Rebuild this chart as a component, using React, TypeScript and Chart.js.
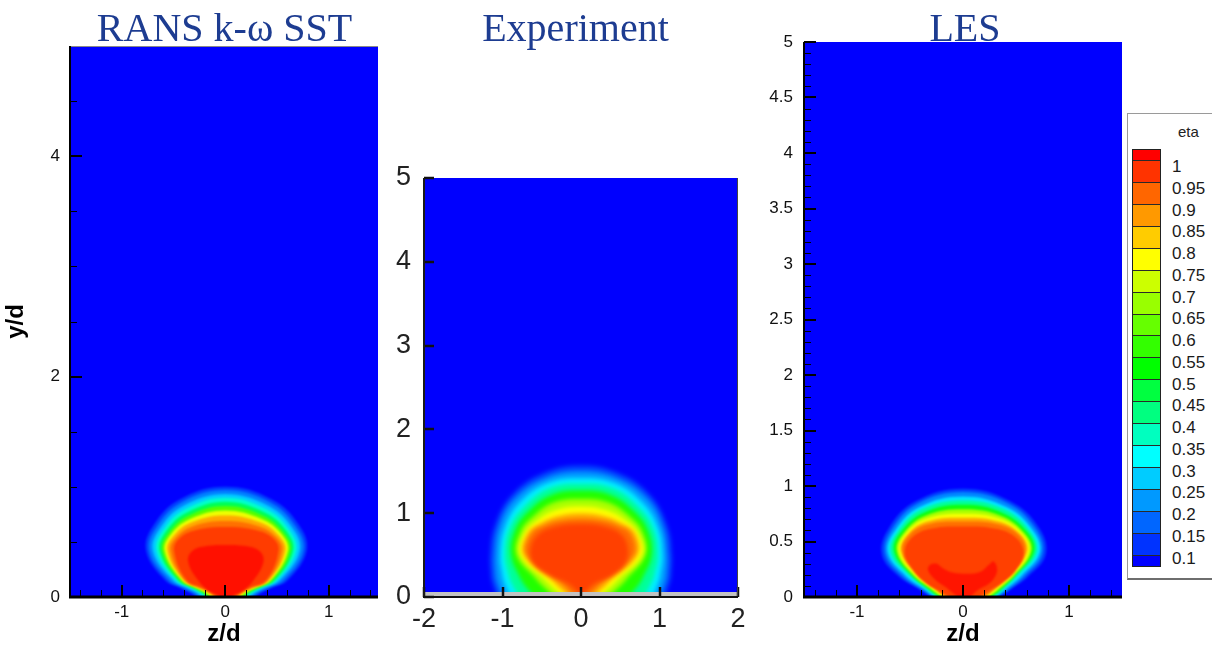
import React, { useEffect, useRef } from 'react';
import { Chart, registerables } from 'chart.js';

Chart.register(...registerables);

type Pt = [number, number];

const TITLE_COLOR = '#1d3c91';
const SANS = '"Liberation Sans", Arial, sans-serif';
const NARROW = '"Liberation Sans Narrow", "Liberation Sans", Arial, sans-serif';
const SERIF = '"Liberation Serif", "Times New Roman", serif';

// ---------- panel titles ----------
const panelTitles = ['RANS k-ω SST', 'Experiment', 'LES'];

// ---------- RANS k-ω SST ----------
const ransXTicks = [-1, 0, 1];
const ransYTicks = [0, 2, 4];
const ransContours: Pt[][] = [
  [[-0.25,-0.05],[-0.31,0.02],[-0.43,0.08],[-0.58,0.15],[-0.765,0.42],[-0.69,0.655],[-0.44,0.885],[0,1.0],[0.45,0.885],[0.71,0.655],[0.785,0.42],[0.6,0.15],[0.44,0.08],[0.32,0.02],[0.26,-0.05]],
  [[-0.22,-0.05],[-0.28,0.02],[-0.4,0.08],[-0.55,0.155],[-0.735,0.42],[-0.66,0.64],[-0.42,0.86],[0,0.97],[0.43,0.86],[0.68,0.64],[0.755,0.42],[0.57,0.155],[0.41,0.08],[0.29,0.02],[0.23,-0.05]],
  [[-0.2,-0.05],[-0.25,0.02],[-0.36,0.08],[-0.51,0.155],[-0.7,0.42],[-0.625,0.63],[-0.4,0.83],[0,0.935],[0.41,0.83],[0.645,0.63],[0.72,0.42],[0.53,0.155],[0.37,0.08],[0.26,0.02],[0.21,-0.05]],
  [[-0.18,-0.05],[-0.22,0.02],[-0.33,0.08],[-0.48,0.155],[-0.665,0.42],[-0.59,0.62],[-0.38,0.8],[0,0.9],[0.39,0.8],[0.61,0.62],[0.685,0.42],[0.5,0.155],[0.34,0.08],[0.23,0.02],[0.19,-0.05]],
  [[-0.16,-0.05],[-0.2,0.02],[-0.31,0.08],[-0.46,0.155],[-0.635,0.42],[-0.565,0.605],[-0.365,0.77],[0,0.865],[0.375,0.77],[0.585,0.605],[0.655,0.42],[0.48,0.155],[0.32,0.08],[0.21,0.02],[0.17,-0.05]],
  [[-0.14,-0.05],[-0.18,0.02],[-0.29,0.08],[-0.44,0.155],[-0.61,0.42],[-0.54,0.59],[-0.35,0.74],[0,0.825],[0.36,0.74],[0.56,0.59],[0.63,0.42],[0.46,0.155],[0.3,0.08],[0.19,0.02],[0.15,-0.05]],
  [[-0.125,-0.05],[-0.16,0.02],[-0.27,0.08],[-0.42,0.155],[-0.585,0.42],[-0.52,0.575],[-0.335,0.71],[0,0.785],[0.345,0.71],[0.54,0.575],[0.605,0.42],[0.44,0.155],[0.28,0.08],[0.17,0.02],[0.135,-0.05]],
  [[-0.11,-0.05],[-0.14,0.02],[-0.25,0.08],[-0.405,0.155],[-0.56,0.42],[-0.495,0.56],[-0.32,0.68],[0,0.74],[0.33,0.68],[0.515,0.56],[0.58,0.42],[0.425,0.155],[0.26,0.08],[0.15,0.02],[0.12,-0.05]],
  [[-0.095,-0.05],[-0.12,0.02],[-0.23,0.08],[-0.39,0.155],[-0.53,0.42],[-0.47,0.545],[-0.305,0.645],[0,0.69],[0.315,0.645],[0.49,0.545],[0.55,0.42],[0.41,0.155],[0.24,0.08],[0.13,0.02],[0.105,-0.05]],
  [[-0.08,-0.05],[-0.1,0.02],[-0.21,0.08],[-0.375,0.155],[-0.495,0.42],[-0.445,0.53],[-0.29,0.605],[0,0.635],[0.3,0.605],[0.465,0.53],[0.515,0.42],[0.395,0.155],[0.22,0.08],[0.11,0.02],[0.09,-0.05]],
  [[-0.03,-0.05],[-0.06,0.01],[-0.15,0.05],[-0.265,0.155],[-0.36,0.33],[-0.31,0.425],[-0.16,0.465],[0,0.472],[0.17,0.465],[0.32,0.425],[0.37,0.33],[0.275,0.155],[0.16,0.05],[0.07,0.01],[0.04,-0.05]],
];
const ransColors = ['#0040ff', '#0080ff', '#00ccff', '#00ffcc', '#00ff55', '#55ff00', '#eeff00', '#ffaa00', '#ff7000', '#ff3c00', '#ff1000'];

// ---------- Experiment ----------
const expXTicks = [-2, -1, 0, 1, 2];
const expYTicks = [0, 1, 2, 3, 4, 5];
const expContours: Pt[][] = [
  [[-1.13,-0.05],[-1.15,0.25],[-1.16,0.5],[-1.1,0.85],[-0.88,1.22],[-0.48,1.48],[0,1.57],[0.48,1.48],[0.88,1.22],[1.1,0.85],[1.16,0.5],[1.15,0.25],[1.13,-0.05]],
  [[-1.06,-0.05],[-1.09,0.25],[-1.1,0.5],[-1.04,0.85],[-0.84,1.18],[-0.46,1.42],[0,1.5],[0.46,1.42],[0.84,1.18],[1.04,0.85],[1.1,0.5],[1.09,0.25],[1.06,-0.05]],
  [[-0.96,-0.05],[-1.0,0.25],[-1.03,0.5],[-0.97,0.83],[-0.78,1.13],[-0.43,1.36],[0,1.42],[0.43,1.36],[0.78,1.13],[0.98,0.83],[1.04,0.5],[1.01,0.25],[0.97,-0.05]],
  [[-0.84,-0.05],[-0.92,0.25],[-0.97,0.5],[-0.91,0.82],[-0.72,1.08],[-0.4,1.3],[0,1.35],[0.4,1.3],[0.73,1.08],[0.92,0.82],[0.98,0.5],[0.93,0.25],[0.85,-0.05]],
  [[-0.62,-0.05],[-0.76,0.2],[-0.89,0.5],[-0.84,0.8],[-0.66,1.03],[-0.37,1.22],[0,1.27],[0.37,1.22],[0.67,1.03],[0.85,0.8],[0.9,0.5],[0.77,0.2],[0.63,-0.05]],
  [[-0.36,-0.05],[-0.56,0.2],[-0.82,0.5],[-0.77,0.78],[-0.6,0.97],[-0.34,1.13],[0,1.17],[0.34,1.13],[0.61,0.97],[0.78,0.78],[0.82,0.5],[0.57,0.2],[0.37,-0.05]],
  [[-0.24,-0.05],[-0.43,0.18],[-0.77,0.5],[-0.72,0.76],[-0.55,0.92],[-0.31,1.04],[0,1.08],[0.31,1.04],[0.56,0.92],[0.73,0.76],[0.78,0.5],[0.44,0.18],[0.25,-0.05]],
  [[-0.16,-0.05],[-0.32,0.15],[-0.73,0.5],[-0.68,0.76],[-0.5,0.89],[-0.28,0.97],[0,1.0],[0.28,0.97],[0.5,0.89],[0.69,0.76],[0.72,0.5],[0.33,0.15],[0.17,-0.05]],
  [[-0.1,-0.05],[-0.22,0.14],[-0.69,0.5],[-0.63,0.76],[-0.45,0.86],[-0.25,0.915],[0,0.935],[0.25,0.915],[0.45,0.86],[0.63,0.76],[0.67,0.5],[0.23,0.14],[0.11,-0.05]],
  [[-0.02,-0.05],[-0.12,0.13],[-0.4,0.26],[-0.6,0.4],[-0.645,0.56],[-0.55,0.74],[-0.32,0.84],[0,0.87],[0.3,0.84],[0.52,0.74],[0.6,0.56],[0.56,0.4],[0.4,0.26],[0.13,0.13],[0.03,-0.05]],
];
const expColors = ['#0044ff', '#0099ff', '#00eeff', '#00ff99', '#22ff00', '#aaff00', '#ffff00', '#ffaa00', '#ff6a00', '#ff4000'];

// ---------- LES ----------
const lesXTicks = [-1, 0, 1];
const lesYTicks = [0, 0.5, 1, 1.5, 2, 2.5, 3, 3.5, 4, 4.5, 5];
const lesContours: Pt[][] = [
  [[-0.27,-0.05],[-0.4,0.06],[-0.6,0.18],[-0.765,0.38],[-0.7,0.62],[-0.45,0.86],[0,0.975],[0.45,0.86],[0.72,0.62],[0.78,0.38],[0.61,0.18],[0.44,0.06],[0.31,-0.05]],
  [[-0.25,-0.05],[-0.38,0.06],[-0.57,0.185],[-0.735,0.39],[-0.67,0.61],[-0.43,0.84],[0,0.945],[0.43,0.84],[0.69,0.61],[0.75,0.39],[0.58,0.185],[0.42,0.06],[0.29,-0.05]],
  [[-0.23,-0.05],[-0.35,0.06],[-0.54,0.19],[-0.71,0.4],[-0.64,0.6],[-0.41,0.81],[0,0.905],[0.41,0.81],[0.66,0.6],[0.725,0.4],[0.55,0.19],[0.39,0.06],[0.27,-0.05]],
  [[-0.21,-0.05],[-0.33,0.06],[-0.51,0.195],[-0.68,0.4],[-0.615,0.59],[-0.39,0.79],[0,0.87],[0.39,0.79],[0.635,0.59],[0.695,0.4],[0.52,0.195],[0.37,0.06],[0.25,-0.05]],
  [[-0.19,-0.05],[-0.31,0.06],[-0.49,0.2],[-0.65,0.41],[-0.59,0.58],[-0.37,0.76],[0,0.83],[0.37,0.76],[0.61,0.58],[0.67,0.41],[0.5,0.2],[0.35,0.06],[0.23,-0.05]],
  [[-0.17,-0.05],[-0.29,0.06],[-0.475,0.2],[-0.625,0.41],[-0.565,0.57],[-0.36,0.73],[0,0.79],[0.36,0.73],[0.585,0.57],[0.645,0.41],[0.49,0.2],[0.33,0.06],[0.21,-0.05]],
  [[-0.15,-0.05],[-0.27,0.06],[-0.46,0.205],[-0.605,0.41],[-0.545,0.565],[-0.35,0.705],[0,0.75],[0.35,0.705],[0.565,0.565],[0.625,0.41],[0.475,0.205],[0.31,0.06],[0.19,-0.05]],
  [[-0.13,-0.05],[-0.25,0.06],[-0.445,0.21],[-0.585,0.41],[-0.525,0.56],[-0.34,0.68],[0,0.715],[0.34,0.68],[0.545,0.56],[0.605,0.41],[0.46,0.21],[0.29,0.06],[0.17,-0.05]],
  [[-0.11,-0.05],[-0.235,0.055],[-0.43,0.215],[-0.57,0.41],[-0.51,0.555],[-0.33,0.655],[0,0.68],[0.33,0.655],[0.53,0.555],[0.585,0.41],[0.445,0.215],[0.27,0.055],[0.15,-0.05]],
  [[-0.08,-0.05],[-0.21,0.048],[-0.34,0.12],[-0.47,0.244],[-0.55,0.41],[-0.45,0.56],[-0.25,0.625],[0,0.635],[0.25,0.625],[0.465,0.56],[0.57,0.41],[0.5,0.244],[0.355,0.12],[0.23,0.048],[0.1,-0.05]],
  [[-0.03,-0.05],[-0.15,0.078],[-0.26,0.153],[-0.33,0.24],[-0.31,0.29],[-0.245,0.3],[-0.2,0.265],[-0.12,0.225],[0,0.21],[0.16,0.225],[0.245,0.29],[0.29,0.32],[0.322,0.25],[0.3,0.18],[0.244,0.12],[0.12,0.048],[0.05,-0.05]],
];
const lesColors = ['#0040ff', '#0088ff', '#00e5ff', '#00ff99', '#10ff10', '#aaff00', '#f5ff00', '#ffaa00', '#ff7000', '#ff4000', '#ff1500'];

// ---------- colour legend ----------
const legendTitle = 'eta';
const legendLabels = ['1', '0.95', '0.9', '0.85', '0.8', '0.75', '0.7', '0.65', '0.6', '0.55', '0.5', '0.45', '0.4', '0.35', '0.3', '0.25', '0.2', '0.15', '0.1'];
const legendColors = ['#ff0000', '#ff3300', '#ff6600', '#ff9900', '#ffcc00', '#ffff00', '#ccff00', '#99ff00', '#66ff00', '#33ff00', '#00ff00', '#00ff40', '#00ff80', '#00ffbf', '#00ffff', '#00ccff', '#0099ff', '#0066ff', '#0033ff', '#0000ff'];

type PanelCfg = {
  left: number; width: number; padTop: number; padRight: number; yWidth: number; xHeight: number;
  xRange: [number, number]; yRange: [number, number];
  xTicks: number[]; yTicks: number[]; xMinor: number; yMinor: number;
  contours: Pt[][]; colors: string[]; blur: number; bg: string; tension: number;
  tickFamily: string; tickSize: number; tickColor: string; xPad: number; yPad: number;
  xTitle?: string; yTitle?: string; style: 'tec' | 'exp'; topLine?: string;
};

function Panel({ cfg }: { cfg: PanelCfg }) {
  const ref = useRef<HTMLCanvasElement>(null);
  useEffect(() => {
    const canvas = ref.current as HTMLCanvasElement;
    const [xMin, xMax] = cfg.xRange;
    const [yMin, yMax] = cfg.yRange;
    const datasets = cfg.contours.map((pts, i) => ({
      data: [
        { x: xMin - 5, y: yMin - 0.05 },
        ...pts.map(([x, y]) => ({ x, y })),
        { x: xMax + 5, y: yMin - 0.05 },
      ],
      backgroundColor: cfg.colors[i],
      borderColor: 'rgba(0,0,0,0)',
      borderWidth: 0,
      fill: 'shape',
      tension: cfg.tension,
      pointRadius: 0,
      pointHoverRadius: 0,
      order: cfg.contours.length - i,
    }));

    const isMajor = (list: number[], v: number) => list.some((t) => Math.abs(t - v) < 1e-6);

    const deco = {
      id: 'deco',
      beforeDatasetsDraw(chart: any) {
        const { ctx, chartArea: a } = chart;
        ctx.save();
        ctx.fillStyle = cfg.bg;
        ctx.fillRect(a.left, a.top, a.right - a.left, a.bottom - a.top);
        ctx.filter = `blur(${cfg.blur}px)`;
      },
      afterDatasetsDraw(chart: any) {
        chart.ctx.restore();
      },
      afterDraw(chart: any) {
        const { ctx, chartArea: a } = chart;
        const xs = chart.scales.x;
        const ys = chart.scales.y;
        const seg = (x1: number, y1: number, x2: number, y2: number, w: number, c: string) => {
          ctx.beginPath();
          ctx.lineWidth = w;
          ctx.strokeStyle = c;
          ctx.moveTo(x1, y1);
          ctx.lineTo(x2, y2);
          ctx.stroke();
        };
        ctx.save();
        if (cfg.style === 'tec') {
          if (cfg.xMinor > 0) {
            const k0 = Math.ceil(xMin / cfg.xMinor - 1e-9);
            const k1 = Math.floor(xMax / cfg.xMinor + 1e-9);
            for (let k = k0; k <= k1; k++) {
              const v = k * cfg.xMinor;
              if (isMajor(cfg.xTicks, v)) continue;
              const px = Math.round(xs.getPixelForValue(v)) + 0.5;
              seg(px, a.bottom, px, a.bottom - 7, 1, '#000');
            }
          }
          if (cfg.yMinor > 0) {
            const k0 = Math.ceil(yMin / cfg.yMinor - 1e-9);
            const k1 = Math.floor(yMax / cfg.yMinor + 1e-9);
            for (let k = k0; k <= k1; k++) {
              const v = k * cfg.yMinor;
              if (isMajor(cfg.yTicks, v)) continue;
              const py = Math.round(ys.getPixelForValue(v)) + 0.5;
              seg(a.left, py, a.left + 7, py, 1, '#000');
            }
          }
          cfg.xTicks.forEach((v) => {
            const px = Math.round(xs.getPixelForValue(v));
            seg(px, a.bottom, px, a.bottom - 12, 2, '#000');
          });
          cfg.yTicks.forEach((v) => {
            const py = Math.round(ys.getPixelForValue(v));
            seg(a.left, py, a.left + 12, py, 2, '#000');
          });
          if (cfg.topLine) seg(a.left, a.top + 0.5, a.right, a.top + 0.5, 1, cfg.topLine);
          seg(a.left, a.top, a.left, a.bottom + 1, 2, '#000');
          seg(a.left - 1, a.bottom, a.right, a.bottom, 3, '#000');
        } else {
          ctx.fillStyle = '#c2c2c2';
          ctx.fillRect(a.left, a.bottom - 5, a.right - a.left, 4);
          cfg.xTicks.forEach((v) => {
            const px = Math.round(xs.getPixelForValue(v));
            seg(px, a.bottom, px, a.bottom - 10, 2.5, '#111');
          });
          cfg.yTicks.forEach((v) => {
            const py = Math.round(ys.getPixelForValue(v));
            seg(a.left, py, a.left + 10, py, 2.5, '#111');
          });
          seg(a.right - 0.5, a.top, a.right - 0.5, a.bottom, 1, '#444');
          seg(a.left, a.top, a.left, a.bottom, 2, '#1a1a1a');
          seg(a.left - 1, a.bottom, a.right, a.bottom, 2, '#111');
        }
        ctx.restore();
      },
    };

    const tickFont = { family: cfg.tickFamily, size: cfg.tickSize };
    const titleFont = { family: SANS, size: 24, weight: 'bold' as const, lineHeight: 0.9 };

    const chart = new Chart(canvas, {
      type: 'line',
      data: { datasets: datasets as any },
      options: {
        responsive: false,
        animation: false,
        devicePixelRatio: 1,
        events: [],
        layout: { padding: { left: 0, right: cfg.padRight, top: cfg.padTop, bottom: 0 } },
        elements: { line: { capBezierPoints: false } },
        plugins: { legend: { display: false }, tooltip: { enabled: false }, title: { display: false } },
        scales: {
          x: {
            type: 'linear',
            min: xMin,
            max: xMax,
            afterBuildTicks: (s: any) => { s.ticks = cfg.xTicks.map((v) => ({ value: v })); },
            afterFit: (s: any) => { s.height = cfg.xHeight; },
            grid: { display: false, drawTicks: false },
            border: { display: false },
            ticks: { font: tickFont, color: cfg.tickColor, padding: cfg.xPad, maxRotation: 0, autoSkip: false, callback: (v: any) => String(v) },
            title: cfg.xTitle
              ? { display: true, text: cfg.xTitle, font: titleFont, color: '#000', padding: { top: 0, bottom: 0 } }
              : { display: false },
          },
          y: {
            type: 'linear',
            min: yMin,
            max: yMax,
            afterBuildTicks: (s: any) => { s.ticks = cfg.yTicks.map((v) => ({ value: v })); },
            afterFit: (s: any) => { s.width = cfg.yWidth; },
            grid: { display: false, drawTicks: false },
            border: { display: false },
            ticks: { font: tickFont, color: cfg.tickColor, padding: cfg.yPad, autoSkip: false, callback: (v: any) => String(v) },
            title: cfg.yTitle
              ? { display: true, text: cfg.yTitle, font: titleFont, color: '#000', padding: { top: 6, bottom: 0 } }
              : { display: false },
          },
        },
      } as any,
      plugins: [deco],
    });
    return () => chart.destroy();
  }, []);
  return (
    <canvas
      ref={ref}
      width={cfg.width}
      height={645}
      style={{ position: 'absolute', left: cfg.left, top: 0, width: cfg.width, height: 645 }}
    />
  );
}

const ransCfg: PanelCfg = {
  left: 0, width: 400, padTop: 46, padRight: 22, yWidth: 70, xHeight: 48,
  xRange: [-1.5, 1.475], yRange: [0, 5], xTicks: ransXTicks, yTicks: ransYTicks, xMinor: 0.2, yMinor: 0.5,
  contours: ransContours, colors: ransColors, blur: 1.2, bg: '#0000ff', tension: 0.4,
  tickFamily: SANS, tickSize: 17, tickColor: '#111', xPad: 5, yPad: 10,
  xTitle: 'z/d', yTitle: 'y/d', style: 'tec', topLine: '#8a8a8a',
};

const expCfg: PanelCfg = {
  left: 385, width: 375, padTop: 178, padRight: 22, yWidth: 39, xHeight: 48,
  xRange: [-2, 2], yRange: [0, 5], xTicks: expXTicks, yTicks: expYTicks, xMinor: 0, yMinor: 0,
  contours: expContours, colors: expColors, blur: 2.2, bg: '#0000fe', tension: 0.4,
  tickFamily: NARROW, tickSize: 27, tickColor: '#222', xPad: 6, yPad: 13,
  style: 'exp',
};

const lesCfg: PanelCfg = {
  left: 760, width: 366, padTop: 42, padRight: 4, yWidth: 44, xHeight: 48,
  xRange: [-1.5, 1.5], yRange: [0, 5], xTicks: lesXTicks, yTicks: lesYTicks, xMinor: 0.2, yMinor: 0.1,
  contours: lesContours, colors: lesColors, blur: 1.2, bg: '#0000ff', tension: 0.4,
  tickFamily: SANS, tickSize: 17, tickColor: '#111', xPad: 5, yPad: 11,
  xTitle: 'z/d', style: 'tec',
};

function Legend() {
  const n = legendColors.length;
  const step = 21.93;
  const first = 160;
  return (
    <>
      <div style={{ position: 'absolute', left: 1127, top: 113, width: 100, height: 467, border: '1px solid #9a9a9a', borderBottom: '2px solid #6e6e6e', boxSizing: 'border-box', background: '#fff' }} />
      <div style={{ position: 'absolute', left: 1178, top: 123, font: `15px ${SANS}`, lineHeight: '18px', color: '#222', whiteSpace: 'nowrap' }}>{legendTitle}</div>
      {legendColors.map((c, k) => {
        const top = k === 0 ? 149.5 : first + step * (k - 1);
        const bottom = k === 0 ? first : k === n - 1 ? top + 11.3 : top + step;
        return (
          <div
            key={'s' + k}
            style={{ position: 'absolute', left: 1133, top, width: 27, height: bottom - top, background: c, borderTop: k === 0 ? 'none' : '1px solid #2a2a2a', boxSizing: 'border-box' }}
          />
        );
      })}
      <div style={{ position: 'absolute', left: 1132, top: 148.5, width: 29, height: 418, border: '1px solid #222', boxSizing: 'border-box' }} />
      {legendLabels.map((t, i) => (
        <div key={'l' + t} style={{ position: 'absolute', left: 1172, top: 167 + 21.75 * i - 10, height: 20, lineHeight: '20px', font: `17px ${SANS}`, color: '#1a1a1a', whiteSpace: 'nowrap' }}>{t}</div>
      ))}
    </>
  );
}

const titleCenters = [224.5, 575.5, 965];

export default function App() {
  return (
    <div style={{ position: 'fixed', left: 0, top: 0, width: 1212, height: 645, overflow: 'hidden', background: '#fff' }}>
      <Panel cfg={ransCfg} />
      <Panel cfg={expCfg} />
      <Panel cfg={lesCfg} />
      {panelTitles.map((t, i) => (
        <div
          key={t}
          style={{ position: 'absolute', left: titleCenters[i] - 250, width: 500, top: 8, textAlign: 'center', font: `40px ${SERIF}`, lineHeight: '40px', color: TITLE_COLOR, whiteSpace: 'nowrap' }}
        >
          {t}
        </div>
      ))}
      <Legend />
    </div>
  );
}
